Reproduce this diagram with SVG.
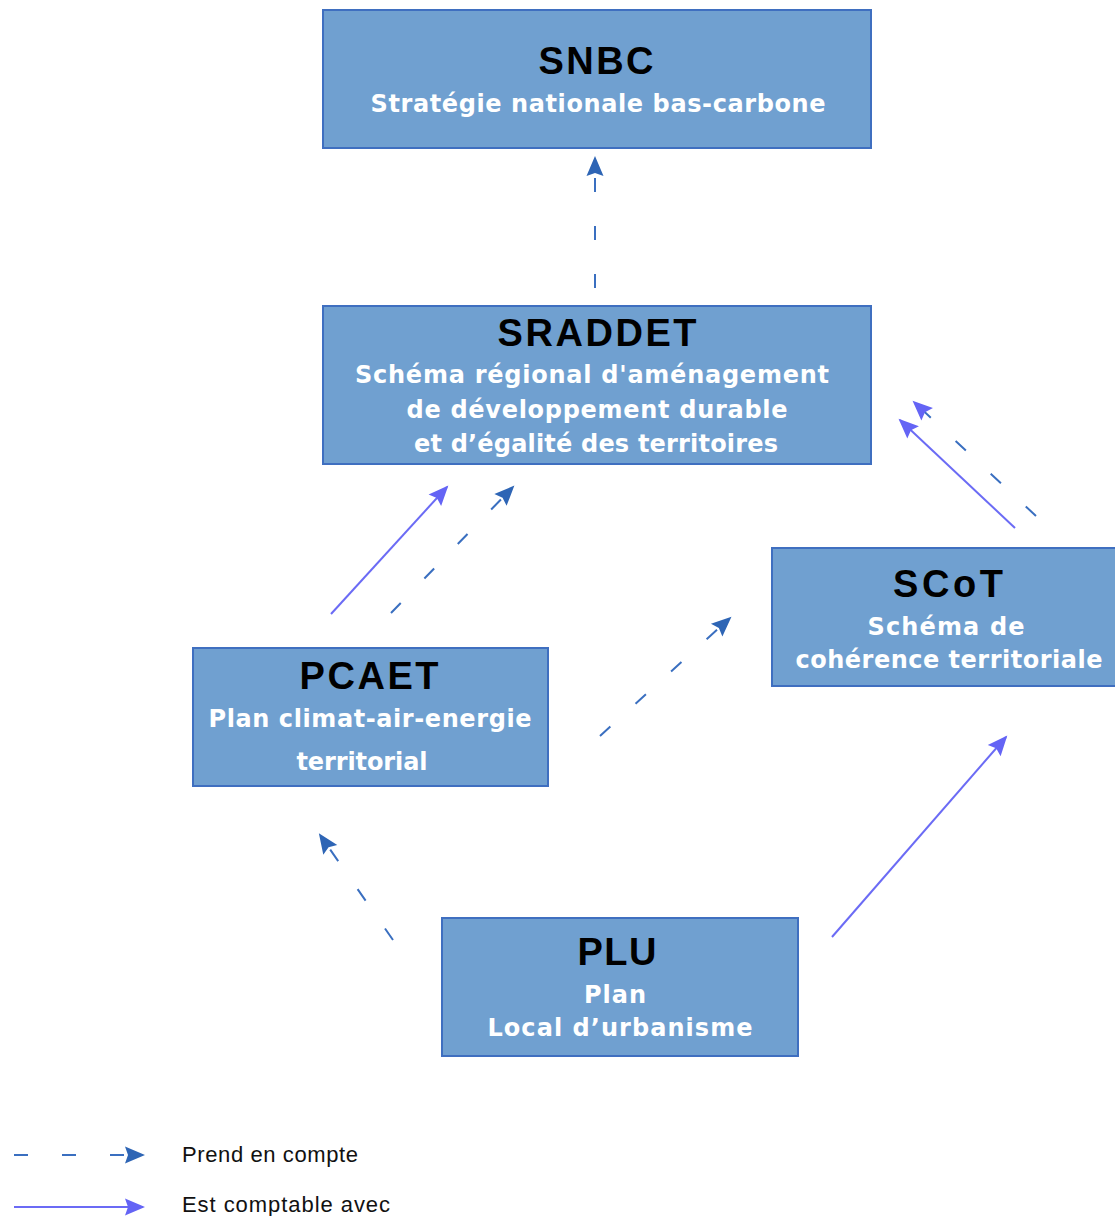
<svg xmlns="http://www.w3.org/2000/svg" width="1115" height="1216" viewBox="0 0 1115 1216">
<defs>
<style>
.box{fill:#70a0d0;stroke:#3f6fc0;stroke-width:2}
.t{font-family:"Liberation Sans",Arial,sans-serif;font-weight:bold;font-size:38px;fill:#000;text-anchor:middle}
.s{font-family:"DejaVu Sans","Liberation Sans",sans-serif;font-weight:bold;font-size:24px;fill:#fff;text-anchor:middle}
.lg{font-family:"Liberation Sans",Arial,sans-serif;font-size:22px;fill:#111}
.dash{stroke:#3a6fc0;stroke-width:2;fill:none;stroke-dasharray:14 34}
.sol{stroke:#6b6bf5;stroke-width:2;fill:none}
</style>
<marker id="hd" viewBox="-22 -10 24 20" refX="0" refY="0" markerWidth="24" markerHeight="20" markerUnits="userSpaceOnUse" orient="auto" overflow="visible">
<path d="M2,0 L-18,-8.5 L-15,0 L-18,8.5 Z" fill="#2e65b5"/>
</marker>
<marker id="hl" viewBox="-22 -10 24 20" refX="0" refY="0" markerWidth="24" markerHeight="20" markerUnits="userSpaceOnUse" orient="auto" overflow="visible">
<path d="M2,0 L-18,-8.5 L-15,0 L-18,8.5 Z" fill="#6464f5"/>
</marker>
</defs>
<rect width="1115" height="1216" fill="#fff"/>
<g id="connectors">
<line class="dash" x1="595" y1="288" x2="595" y2="158" marker-end="url(#hd)"/>
<line class="sol" x1="331" y1="614" x2="447" y2="487" marker-end="url(#hl)"/>
<line class="dash" x1="391" y1="613" x2="513" y2="487" marker-end="url(#hd)"/>
<line class="sol" x1="1015" y1="528" x2="900" y2="420" marker-end="url(#hl)"/>
<line class="dash" x1="1036" y1="516" x2="914" y2="402" marker-end="url(#hl)"/>
<line class="dash" x1="600" y1="736" x2="730" y2="618" marker-end="url(#hd)"/>
<line class="dash" x1="393" y1="940" x2="320" y2="835" marker-end="url(#hd)"/>
<line class="sol" x1="832" y1="937" x2="1006" y2="737" marker-end="url(#hl)"/>
</g>
<g id="SNBC">
<rect class="box" x="323" y="10" width="548" height="138"/>
<text class="t" x="596" y="74" textLength="115">SNBC</text>
<text class="s" x="598" y="112" textLength="455">Stratégie nationale bas-carbone</text>
</g>
<g id="SRADDET">
<rect class="box" x="323" y="306" width="548" height="158"/>
<text class="t" x="597" y="346" textLength="199">SRADDET</text>
<text class="s" x="592" y="383" textLength="474">Schéma régional d'aménagement</text>
<text class="s" x="597" y="418" textLength="381">de développement durable</text>
<text class="s" x="596" y="452" textLength="364">et d’égalité des territoires</text>
</g>
<g id="PCAET">
<rect class="box" x="193" y="648" width="355" height="138"/>
<text class="t" x="369" y="689" textLength="139">PCAET</text>
<text class="s" x="370" y="727" textLength="323">Plan climat-air-energie</text>
<text class="s" x="362" y="770" textLength="131">territorial</text>
</g>
<g id="SCoT">
<rect class="box" x="772" y="548" width="346" height="138"/>
<text class="t" x="948" y="597" textLength="110">SCoT</text>
<text class="s" x="946" y="635" textLength="157">Schéma de</text>
<text class="s" x="949" y="668" textLength="307">cohérence territoriale</text>
</g>
<g id="PLU">
<rect class="box" x="442" y="918" width="356" height="138"/>
<text class="t" x="617" y="965" textLength="79">PLU</text>
<text class="s" x="615" y="1003" textLength="62">Plan</text>
<text class="s" x="620" y="1036" textLength="265">Local d’urbanisme</text>
</g>
<g id="legend">
<line class="dash" x1="14" y1="1155" x2="143" y2="1155" stroke-dasharray="14 32" marker-end="url(#hd)"/>
<text class="lg" x="182" y="1162" textLength="176">Prend en compte</text>
<line class="sol" x1="14" y1="1207" x2="143" y2="1207" marker-end="url(#hl)"/>
<text class="lg" x="182" y="1212" textLength="208">Est comptable avec</text>
</g>
</svg>
